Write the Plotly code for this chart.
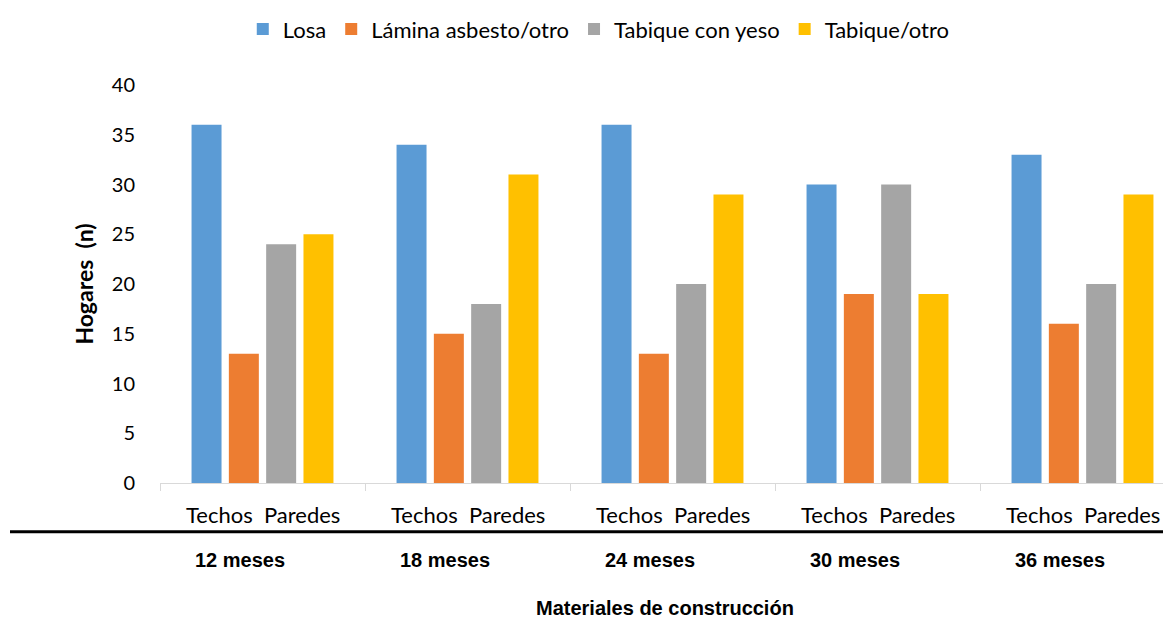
import plotly.graph_objects as go

periodos = ["12 meses", "18 meses", "24 meses", "30 meses", "36 meses"]
sub_label = "Techos  Paredes"
series = ["Losa", "Lámina asbesto/otro", "Tabique con yeso", "Tabique/otro"]
losa = [36, 34, 36, 30, 33]
lamina = [13, 15, 13, 19, 16]
tabique_yeso = [24, 18, 20, 30, 20]
tabique_otro = [25, 31, 29, 19, 29]
colors = ["#5B9BD5", "#ED7D31", "#A5A5A5", "#FFC000"]
y_ticks = [0, 5, 10, 15, 20, 25, 30, 35, 40]

FONT = "Lato"
BOLD = "Liberation Sans"
xpos = [i + 0.5 for i in range(len(periodos))]

fig = go.Figure()
for name, vals, c in zip(series, [losa, lamina, tabique_yeso, tabique_otro], colors):
    fig.add_trace(go.Bar(x=xpos, y=vals, name=name, marker=dict(color=c, line=dict(width=0))))

# page is offset by 8px body margin -> figure 1163x612
fig.update_layout(
    width=1163, height=612,
    margin=dict(l=152, r=0, t=75, b=137),
    paper_bgcolor="white", plot_bgcolor="white",
    barmode="group", bargap=0.272, bargroupgap=0.196,
    font=dict(family=FONT, size=20, color="#000000"),
    legend=dict(orientation="h", x=0.434, xanchor="center", y=1.14, yanchor="middle",
                font=dict(family=FONT, size=22), itemwidth=30, traceorder="normal"),
    showlegend=True,
)
fig.update_xaxes(
    range=[0, 1011 / 205], tickvals=list(range(len(periodos) + 1)),
    ticktext=[""] * (len(periodos) + 1), ticks="outside", ticklen=7, tickcolor="#D9D9D9",
    showline=True, linecolor="#D9D9D9", linewidth=1, showgrid=False, zeroline=False,
    fixedrange=True,
)
fig.update_yaxes(
    range=[0, 40], tickvals=y_ticks, showgrid=False, zeroline=False, showline=False,
    ticks="outside", ticklen=20, tickcolor="rgba(0,0,0,0)",
    tickfont=dict(family=FONT, size=20),
    title=dict(text="<b>Hogares  (n)</b>", font=dict(family=FONT, size=23), standoff=11),
)

for i, p in enumerate(periodos):
    fig.add_annotation(x=xpos[i], y=0, xref="x", yref="paper", yanchor="middle", yshift=-31,
                       text=sub_label, showarrow=False, font=dict(family=FONT, size=22))
    fig.add_annotation(x=xpos[i], y=0, xref="x", yref="paper", yanchor="middle", yshift=-77,
                       xshift=-23, text="<b>" + p + "</b>", showarrow=False,
                       font=dict(family=BOLD, size=20))

fig.add_annotation(x=(665 - 160) / 1011, y=0, xref="paper", yref="paper", yanchor="middle",
                   yshift=-125, text="<b>Materiales de construcción</b>", showarrow=False,
                   font=dict(family=BOLD, size=20))

fig.add_shape(type="line", xref="paper", yref="paper", x0=-150 / 1011, x1=1.01,
              y0=-49 / 400, y1=-49 / 400, line=dict(color="black", width=3))

fig.write_html("out.html")
